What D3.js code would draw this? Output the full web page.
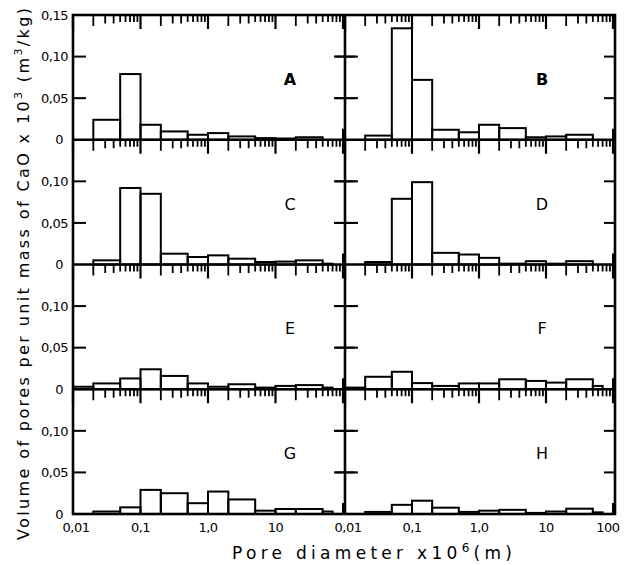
<!DOCTYPE html>
<html>
<head>
<meta charset="utf-8">
<script src="https://cdn.jsdelivr.net/npm/d3@7"></script>
<style>
  body { margin: 0; background: #fff; }
  svg text { font-family: "DejaVu Sans", sans-serif; fill: #000; }
</style>
</head>
<body>
<div id="chart"></div>
<script>
// bin edges of the pore-size histograms (micrometres)
var binEdges = [0.01, 0.02, 0.05, 0.1, 0.2, 0.5, 1, 2, 5, 10, 20, 50, 70];

// volume of pores per bin, x 10^3 m3/kg
var panelA = [0, 0.024, 0.079, 0.018, 0.010, 0.006, 0.008, 0.004, 0.002, 0.0015, 0.003, 0];
var panelB = [0, 0.005, 0.134, 0.072, 0.012, 0.009, 0.018, 0.014, 0.003, 0.004, 0.006, 0];
var panelC = [0, 0.005, 0.092, 0.085, 0.013, 0.009, 0.011, 0.007, 0.003, 0.0035, 0.005, 0.001];
var panelD = [0, 0.003, 0.079, 0.099, 0.014, 0.012, 0.008, 0.001, 0.004, 0.001, 0.004, 0];
var panelE = [0.003, 0.007, 0.013, 0.024, 0.016, 0.007, 0.003, 0.006, 0.002, 0.004, 0.005, 0.002];
var panelF = [0.002, 0.015, 0.021, 0.0074, 0.004, 0.007, 0.007, 0.012, 0.010, 0.008, 0.012, 0.004];
var panelG = [0, 0.003, 0.008, 0.029, 0.025, 0.013, 0.027, 0.0175, 0.004, 0.006, 0.006, 0.003];
var panelH = [0, 0.0025, 0.011, 0.016, 0.0076, 0.0025, 0.004, 0.005, 0.0013, 0.003, 0.0064, 0.002];

var panelNames = ["A", "B", "C", "D", "E", "F", "G", "H"];
var panelValues = [panelA, panelB, panelC, panelD, panelE, panelF, panelG, panelH];

var yTicks = [0, 0.05, 0.10, 0.15];
var yTickLabels = ["0", "0,05", "0,10", "0,15"];
var xTicks = [0.01, 0.1, 1, 10, 100];
var xTickLabels = ["0,01", "0,1", "1,0", "10", "100"];

var width = 629, height = 565;
var topY = 15, rowH = 124.75, nRows = 4;
var colLeft = [73, 345];
var colRight = [343, 613];
var frameRight = 615;

var svg = d3.select("#chart").append("svg")
    .attr("width", width)
    .attr("height", height);

// one log scale per column
var xScales = colLeft.map(function (l, i) {
    return d3.scaleLog().domain([0.01, 100]).range([l, colRight[i]]);
});

// minor ticks 2..9 of each decade
var minorTicks = [];
[0.01, 0.1, 1, 10].forEach(function (d) {
    for (var k = 2; k <= 9; k++) minorTicks.push({ v: d * k, k: k });
});

for (var p = 0; p < 8; p++) {
    var row = Math.floor(p / 2), col = p % 2;
    var x = xScales[col];
    var y0 = topY + row * rowH;
    var y = d3.scaleLinear().domain([0, 0.15]).range([y0 + rowH, y0]);
    var g = svg.append("g");

    var bins = panelValues[p].map(function (v, i) {
        return { x0: binEdges[i], x1: binEdges[i + 1], v: v };
    }).filter(function (d) { return d.v > 0; });

    g.selectAll("rect.bar")
        .data(bins)
        .enter()
        .append("rect")
        .attr("class", "bar")
        .attr("x", function (d) { return x(d.x0); })
        .attr("width", function (d) { return x(d.x1) - x(d.x0); })
        .attr("y", function (d) { return y(d.v); })
        .attr("height", function (d) { return y(0) - y(d.v); })
        .attr("fill", "none")
        .attr("stroke", "#000")
        .attr("stroke-width", 2);

    // ticks along top edge, pointing down
    g.selectAll("line.major")
        .data(xTicks)
        .enter()
        .append("line")
        .attr("class", "major")
        .attr("x1", function (d) { return x(d); })
        .attr("x2", function (d) { return x(d); })
        .attr("y1", y0)
        .attr("y2", y0 + 14)
        .attr("stroke", "#000")
        .attr("stroke-width", 2.2);

    g.selectAll("line.minor")
        .data(minorTicks)
        .enter()
        .append("line")
        .attr("class", "minor")
        .attr("x1", function (d) { return x(d.v); })
        .attr("x2", function (d) { return x(d.v); })
        .attr("y1", y0)
        .attr("y2", function (d) { return y0 + (d.k === 2 ? 11 : d.k < 5 ? 8.5 : 7); })
        .attr("stroke", "#000")
        .attr("stroke-width", 1.8);

    // upward tick at 100 on bottom edge
    g.append("line")
        .attr("x1", x(100)).attr("x2", x(100))
        .attr("y1", y(0)).attr("y2", y(0) - 11)
        .attr("stroke", "#000").attr("stroke-width", 2);

    // y ticks
    var xl = colLeft[col];
    var xr = col === 0 ? colLeft[1] : frameRight;
    [0.05, 0.10].forEach(function (t) {
        g.append("line")
            .attr("x1", col === 0 ? xl : xl - 10).attr("x2", xl + 13)
            .attr("y1", y(t)).attr("y2", y(t))
            .attr("stroke", "#000").attr("stroke-width", 2);
        g.append("line")
            .attr("x1", xr - 11).attr("x2", col === 0 ? xr + 10 : xr)
            .attr("y1", y(t)).attr("y2", y(t))
            .attr("stroke", "#000").attr("stroke-width", 2);
    });

    if (col === 0) {
        yTicks.forEach(function (t, i) {
            if (t === 0.15 && row > 0) return;
            g.append("text")
                .attr("x", t === 0 ? 63 : 68)
                .attr("y", y(t))
                .attr("dy", "0.36em")
                .attr("text-anchor", "end")
                .attr("font-size", 13)
                .attr("letter-spacing", -0.5)
                .text(yTickLabels[i]);
        });
    }

    g.append("text")
        .attr("x", col === 0 ? 290 : 542)
        .attr("y", y(0.073))
        .attr("dy", "0.36em")
        .attr("text-anchor", "middle")
        .attr("font-size", 16)
        .attr("font-weight", p === 0 || p === 1 ? "bold" : "normal")
        .text(panelNames[p]);
}

// frame
var frame = svg.append("g")
    .attr("fill", "none")
    .attr("stroke", "#000")
    .attr("stroke-width", 2.6);
frame.append("rect")
    .attr("x", colLeft[0]).attr("y", topY)
    .attr("width", frameRight - colLeft[0])
    .attr("height", rowH * nRows);
frame.append("line")
    .attr("x1", colLeft[1]).attr("x2", colLeft[1])
    .attr("y1", topY).attr("y2", topY + rowH * nRows);
d3.range(1, nRows).forEach(function (r) {
    frame.append("line")
        .attr("x1", colLeft[0]).attr("x2", frameRight)
        .attr("y1", topY + r * rowH).attr("y2", topY + r * rowH);
});

// x tick labels along the bottom
var bottomY = topY + rowH * nRows;
xScales.forEach(function (x, c) {
    xTicks.forEach(function (t, i) {
        if (c === 0 && t === 100) return;
        svg.append("text")
            .attr("x", x(t) + (i === 0 ? 3 : 0) - (c === 1 && t === 100 ? 5 : 0))
            .attr("y", bottomY + 18)
            .attr("text-anchor", "middle")
            .attr("font-size", 13)
            .attr("letter-spacing", -0.5)
            .text(xTickLabels[i]);
    });
});

// axis titles
var xt = svg.append("text")
    .attr("x", 232)
    .attr("y", 559)
    .attr("font-size", 17)
    .attr("textLength", 280)
    .attr("lengthAdjust", "spacing");
xt.append("tspan").text("Pore diameter x10");
xt.append("tspan").attr("dy", -7).attr("font-size", 12).text("6");
xt.append("tspan").attr("dy", 7).text("(m)");

var yt = svg.append("text")
    .attr("transform", "translate(29,540) rotate(-90)")
    .attr("x", 0)
    .attr("y", 0)
    .attr("font-size", 16)
    .attr("textLength", 532)
    .attr("lengthAdjust", "spacing");
yt.append("tspan").text("Volume of pores per unit mass of CaO  x 10");
yt.append("tspan").attr("dy", -7).attr("font-size", 11).text("3");
yt.append("tspan").attr("dy", 7).text(" (m");
yt.append("tspan").attr("dy", -7).attr("font-size", 11).text("3");
yt.append("tspan").attr("dy", 7).text("/kg)");
</script>
</body>
</html>
